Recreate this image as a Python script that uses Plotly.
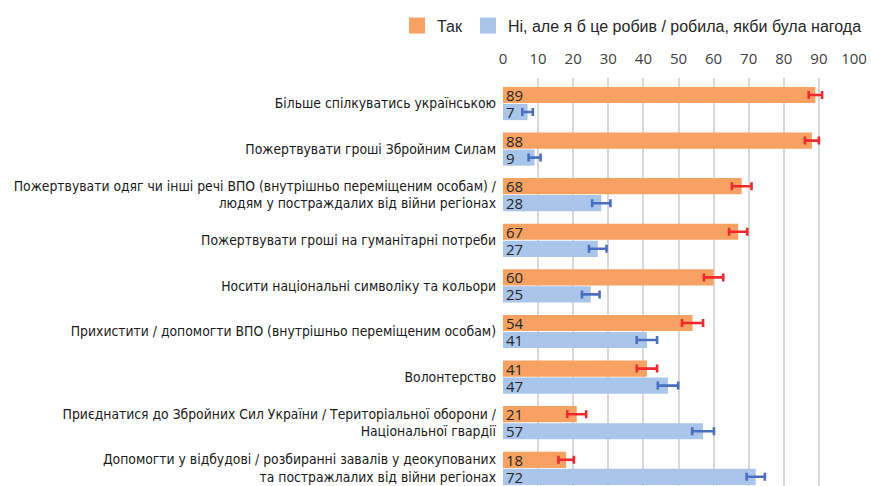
import plotly.graph_objects as go

categories = [
    "Більше спілкуватись українською",
    "Пожертвувати гроші Збройним Силам",
    "Пожертвувати одяг чи інші речі ВПО (внутрішньо переміщеним особам) /<br>людям у постраждалих від війни регіонах",
    "Пожертвувати гроші на гуманітарні потреби",
    "Носити національні символіку та кольори",
    "Прихистити / допомогти ВПО (внутрішньо переміщеним особам)",
    "Волонтерство",
    "Приєднатися до Збройних Сил України / Територіальної оборони /<br>Національної гвардії",
    "Допомогти у відбудові / розбиранні завалів у деокупованих<br>та постражлалих від війни регіонах",
]
tak = [89, 88, 68, 67, 60, 54, 41, 21, 18]
ni = [7, 9, 28, 27, 25, 41, 47, 57, 72]
err_tak = [1.9, 2.0, 2.8, 2.6, 2.75, 3.0, 2.9, 2.7, 2.2]
err_ni = [1.5, 1.7, 2.6, 2.5, 2.5, 2.9, 2.9, 3.1, 2.6]
series_names = ["Так", "Ні, але я б це робив / робила, якби була нагода"]
x_ticks = list(range(0, 101, 10))

ORANGE = "#F7A262"
BLUE = "#A9C5EA"
RED_ERR = "#EE2A2F"
BLUE_ERR = "#4A6FBF"

label_font = dict(family="DejaVu Sans Condensed, DejaVu Sans, sans-serif", size=13.8, color="#1A1A1A")

fig = go.Figure()
for vals, errs, col, ecol, name in [
    (tak, err_tak, ORANGE, RED_ERR, series_names[0]),
    (ni, err_ni, BLUE, BLUE_ERR, series_names[1]),
]:
    fig.add_trace(go.Bar(
        y=categories, x=vals, orientation="h", name=name,
        marker=dict(color=col, line=dict(width=0)),
        text=[str(v) for v in vals], textposition="inside", textangle=0,
        insidetextanchor="start", constraintext="none",
        textfont=dict(family="Open Sans, Liberation Sans, sans-serif", size=15, color="#262626"),
        error_x=dict(type="data", array=errs, color=ecol, thickness=2.6, width=4),
        showlegend=False, hoverinfo="skip",
    ))
    fig.add_trace(go.Scatter(
        x=[None], y=[None], mode="markers", name=name,
        marker=dict(symbol="square", size=16, color=col), showlegend=True,
    ))

fig.update_layout(
    width=871, height=486,
    margin=dict(l=503, r=17, t=78, b=0, autoexpand=False),
    paper_bgcolor="white", plot_bgcolor="white",
    barmode="group", bargap=0.254, bargroupgap=0.05,
    legend=dict(orientation="h", xref="paper", yref="paper",
                x=(397 - 503) / 351, y=1.17, xanchor="left", yanchor="top",
                font=dict(family="Liberation Sans, sans-serif", size=16, color="#262626"),
                itemsizing="trace", traceorder="normal", itemwidth=30),
    xaxis=dict(range=[0, 100], side="top", tickvals=x_ticks, showgrid=True,
               gridcolor="#D9D9D9", gridwidth=1.5, zeroline=False, showline=False,
               ticks="", ticklabelstandoff=10,
               tickfont=dict(family="Open Sans, Liberation Sans, sans-serif", size=15, color="#404040")),
    yaxis=dict(range=[8.388, -0.559], type="category", showgrid=False, zeroline=False,
               ticks="", ticklabelstandoff=6, tickfont=label_font),
)

fig.write_html("out.html")
